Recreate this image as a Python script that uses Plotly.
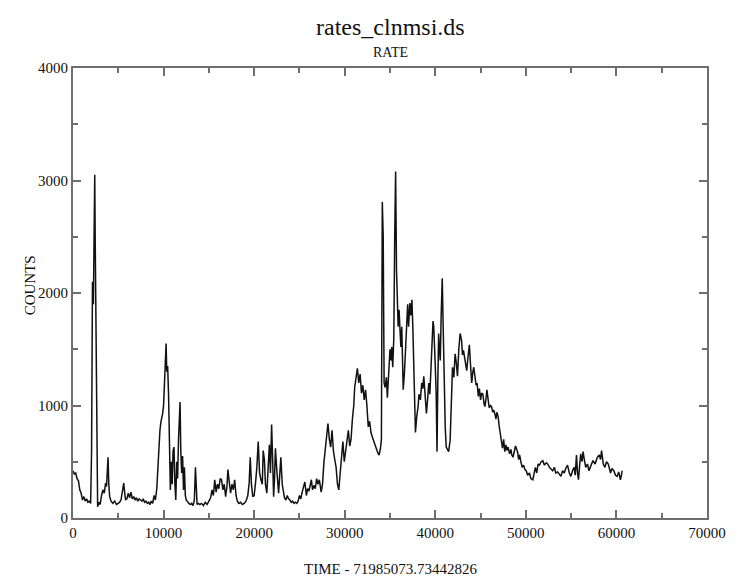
import plotly.graph_objects as go

# Light-curve samples: time offset (s) and count rate, split into stretches
TIME_A = [0, 150, 300, 450, 600, 750, 900, 1050, 1200, 1350,
          1500, 1650, 1800, 1950, 2050, 2150, 2250, 2330, 2400, 2450,
          2500, 2560, 2640, 2720, 2850, 3000, 3150, 3300, 3450, 3600,
          3700, 3800, 3870, 3950, 4050, 4200, 4400, 4600, 4800, 5000,
          5150, 5300, 5450, 5600, 5700, 5800, 5950, 6100, 6250, 6400,
          6550, 6700, 6850, 7000, 7150, 7300, 7450, 7600, 7750, 7900,
          8050, 8200, 8350, 8500, 8650, 8800, 8950, 9100, 9250]
COUNTS_A = [420, 390, 400, 350, 330, 250, 220, 160, 190, 150,
            170, 140, 150, 130, 600, 2100, 1900, 2600, 3050, 2500,
            2000, 900, 120, 100, 140, 120, 200, 250, 220, 310,
            280, 400, 540, 300, 190, 150, 130, 150, 120, 130,
            140, 160, 220, 310, 230, 160, 170, 220, 180, 230,
            170, 190, 160, 180, 150, 170, 160, 150, 170, 140,
            150, 130, 140, 120, 150, 130, 200, 160, 260]

TIME_B = [9400, 9500, 9600, 9700, 9800, 9900, 10000, 10100, 10200, 10280,
          10350, 10450, 10550, 10650, 10750, 10850, 10950, 11050, 11150, 11250,
          11350, 11450, 11550, 11650, 11750, 11820, 11900, 12000, 12100, 12200,
          12300, 12400, 12500, 12650, 12800, 12950, 13100, 13250, 13400, 13520,
          13600, 13700, 13850]
COUNTS_B = [500, 720, 780, 850, 880, 930, 1000, 1200, 1450, 1550,
            1300, 1350, 1100, 700, 250, 500, 300, 600, 630, 300,
            160, 500, 350, 700, 900, 1030, 600, 400, 550, 250,
            450, 200, 160, 140, 130, 120, 130, 110, 160, 450,
            200, 120, 130]

TIME_C = [14000, 14200, 14400, 14600, 14800, 15000, 15200, 15350, 15500, 15650,
          15800, 15950, 16100, 16250, 16400, 16550, 16700, 16850, 17000, 17100,
          17250, 17400, 17550, 17700, 17850, 18000, 18150, 18300, 18500, 18700,
          18900, 19100, 19300, 19450, 19570, 19700, 19850, 20000, 20150, 20300,
          20450, 20600, 20750, 20900, 21000, 21130, 21250, 21400, 21550, 21680,
          21800, 21930, 22050, 22150, 22250, 22350, 22480, 22600, 22700, 22800,
          22950, 23100, 23220, 23350, 23500, 23650, 23800, 23950, 24100, 24250,
          24400, 24550, 24700, 24850, 25000, 25150, 25300]
COUNTS_C = [120, 130, 110, 140, 120, 150, 180, 250, 200, 340,
            230, 300, 260, 350, 340, 250, 300, 190, 280, 430,
            300, 220, 300, 250, 340, 200, 150, 130, 140, 120,
            130, 150, 200, 310, 540, 300, 190, 200, 310, 450,
            680, 400, 340, 300, 600, 520, 300, 220, 450, 650,
            400, 830, 500, 190, 350, 620, 450, 250, 220, 350,
            540, 300, 250, 180, 160, 200, 170, 160, 140, 150,
            130, 140, 130, 150, 200, 170, 230]

TIME_D = [25450, 25600, 25770, 25900, 26050, 26200, 26320, 26450, 26600, 26750,
          26900, 27050, 27200, 27400, 27550, 27700, 27850, 28000, 28150, 28300,
          28450, 28600, 28750, 28900, 29050, 29200, 29350, 29500, 29650, 29800,
          29950, 30100, 30250, 30400, 30550, 30700, 30850, 31000, 31100, 31250,
          31400, 31550, 31700, 31850, 32000, 32150, 32300, 32450, 32600, 32750,
          32900, 33050, 33200, 33350, 33500, 33650, 33800, 33950]
COUNTS_D = [280, 320, 200, 260, 240, 300, 340, 250, 290, 260,
            350, 300, 340, 230, 300, 490, 600, 720, 840, 700,
            630, 780, 600, 520, 450, 300, 250, 400, 550, 680,
            500, 600, 720, 780, 640, 700, 880, 1000, 1160, 1250,
            1330, 1200, 1280, 1110, 1180, 1050, 1140, 1000, 810, 860,
            760, 720, 680, 650, 600, 580, 560, 620]

TIME_E = [34050, 34150, 34250, 34350, 34460, 34600, 34710, 34850, 35000, 35100,
          35200, 35300, 35420, 35520, 35620, 35720, 35800, 35900, 36000, 36100,
          36200, 36300, 36460, 36600, 36700, 36830, 36950, 37050, 37190, 37300,
          37420, 37520, 37650, 37810, 37950, 38100, 38200, 38360, 38500, 38620,
          38730, 38850, 39020, 39150, 39280, 39400, 39530, 39650, 39750, 39830,
          39920, 40000, 40100, 40190, 40280, 40370, 40460, 40550, 40650, 40770,
          40870, 40990, 41100, 41210, 41350, 41470]
COUNTS_E = [700, 2810, 2500, 1200, 1160, 1250, 1070, 1300, 1500, 1400,
            1520, 1340, 1600, 2500, 3080, 2200, 1900, 1700, 1850, 1600,
            1520, 1700, 1140, 1300, 1520, 1650, 1900, 1700, 1910, 1800,
            1940, 1700, 1200, 760, 900, 990, 1100, 1050, 1200, 1150,
            1260, 1100, 930, 1050, 1200, 1100, 1320, 1450, 1750, 1700,
            1400, 1350, 1100, 590, 1200, 1640, 1500, 1400, 1800, 2130,
            1700, 1080, 800, 630, 600, 590]

TIME_F = [41640, 41770, 41900, 42050, 42190, 42320, 42450, 42600, 42740, 42900,
          43000, 43110, 43250, 43370, 43470, 43600, 43760, 43900, 44020, 44150,
          44250, 44380, 44500, 44620, 44750, 44870, 45000, 45110, 45250, 45380,
          45480, 45600, 45700, 45840, 45950, 46100, 46210, 46350, 46450, 46570,
          46700, 46800, 46940, 47050, 47150, 47300, 47420, 47550, 47670, 47800,
          47900, 48040, 48200, 48350, 48450, 48580, 48700, 48850, 48950, 49100,
          49200, 49310]
COUNTS_F = [690, 1000, 1340, 1250, 1460, 1380, 1260, 1500, 1640, 1580,
            1450, 1490, 1400, 1350, 1310, 1420, 1540, 1350, 1200, 1300,
            1340, 1260, 1180, 1200, 1080, 1150, 1050, 1110, 1100, 1020,
            990, 1060, 1140, 1050, 980, 1000, 990, 940, 960, 930,
            880, 940, 900, 820, 760, 690, 620, 700, 590, 650,
            600, 630, 570, 610, 560, 540, 600, 640, 620, 580,
            520, 560]

TIME_G = [49450, 49600, 49750, 49900, 50040, 50200, 50400, 50550, 50770, 50900,
          51050, 51200, 51350, 51500, 51700, 51870, 52050, 52250, 52410, 52600,
          52800, 52960, 53150, 53300, 53510, 53700, 53870, 54050, 54240, 54400,
          54600, 54800, 54970, 55150, 55330, 55450, 55590, 55700, 55810, 55950,
          56060, 56200, 56320, 56450, 56610, 56800, 56970, 57200, 57410, 57650,
          57890, 58100, 58250, 58360, 58550, 58730, 58900, 59100, 59250, 59350,
          59500, 59710, 59900, 60080, 60250, 60440, 60550, 60630]
COUNTS_G = [500, 450, 470, 430, 420, 380, 400, 350, 340, 410,
            450, 400, 480, 470, 500, 510, 470, 490, 480, 450,
            430, 420, 450, 400, 410, 390, 370, 420, 400, 440,
            470, 400, 370, 420, 450, 380, 560, 400, 340, 480,
            570, 500, 590, 520, 450, 480, 420, 470, 510, 480,
            540, 560, 520, 600, 480, 450, 500, 480, 420, 400,
            440, 420, 380, 370, 410, 340, 380, 420]

X_TICKS = [0, 10000, 20000, 30000, 40000, 50000, 60000, 70000]
Y_TICKS = [0, 1000, 2000, 3000, 4000]

time = TIME_A + TIME_B + TIME_C + TIME_D + TIME_E + TIME_F + TIME_G
counts = COUNTS_A + COUNTS_B + COUNTS_C + COUNTS_D + COUNTS_E + COUNTS_F + COUNTS_G
assert len(time) == len(counts)

SERIF = "Liberation Serif"
FRAME = "#6e6e6e"

fig = go.Figure(
    go.Scatter(x=time, y=counts, mode="lines",
               line=dict(color="#111111", width=1.5))
)

axis_common = dict(
    showline=True, linecolor=FRAME, linewidth=2, mirror="ticks",
    ticks="inside", tickcolor=FRAME, tickwidth=1.5, ticklen=8,
    showgrid=False, zeroline=False,
    tickfont=dict(family=SERIF, size=15, color="#111111"),
)

fig.update_xaxes(range=[0, 70000], tickvals=X_TICKS,
                 ticktext=[str(v) for v in X_TICKS],
                 minor=dict(dtick=5000, ticks="inside", ticklen=5,
                            tickcolor=FRAME, tickwidth=1.5),
                 **axis_common)
fig.update_yaxes(range=[0, 4000], tickvals=Y_TICKS,
                 ticktext=[str(v) for v in Y_TICKS],
                 minor=dict(dtick=500, ticks="inside", ticklen=5,
                            tickcolor=FRAME, tickwidth=1.5),
                 **axis_common)

fig.update_layout(
    width=738, height=580,
    margin=dict(l=73, r=26, t=68, b=62),
    paper_bgcolor="white", plot_bgcolor="white",
    showlegend=False,
    annotations=[
        dict(text="rates_clnmsi.ds", x=0.5, y=27, xref="paper", yref="paper",
             showarrow=False, font=dict(family=SERIF, size=24, color="#111111")),
        dict(text="RATE", x=0.5, y=53, xref="paper", yref="paper",
             showarrow=False, font=dict(family=SERIF, size=14, color="#111111")),
        dict(text="TIME - 71985073.73442826", x=0.5, y=569, xref="paper", yref="paper",
             showarrow=False, font=dict(family=SERIF, size=15, color="#111111")),
        dict(text="COUNTS", x=30, y=285, xref="paper", yref="paper", textangle=-90,
             showarrow=False, font=dict(family=SERIF, size=15, color="#111111")),
    ],
)

# Place the text annotations in pixel terms relative to the plotting area
plot_left, plot_right = 73, 738 - 26
plot_top, plot_bottom = 68, 580 - 62
pw, ph = plot_right - plot_left, plot_bottom - plot_top
for ann in fig.layout.annotations:
    px_x = 392.5 if ann.x == 0.5 else ann.x
    px_y = ann.y
    ann.x = (px_x - plot_left) / pw
    ann.y = (plot_bottom - px_y) / ph
    ann.xanchor = "center"
    ann.yanchor = "middle"

fig.write_html("out.html")
